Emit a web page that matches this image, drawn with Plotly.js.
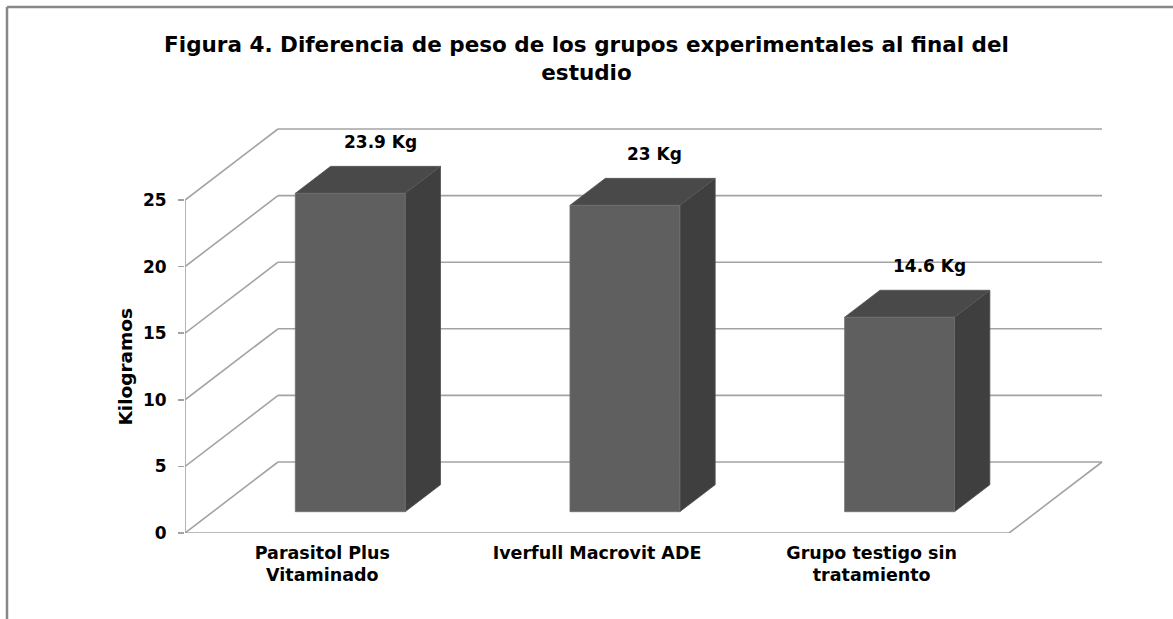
<!DOCTYPE html>
<html>
<head>
<meta charset="utf-8">
<script src="https://cdn.plot.ly/plotly-3.0.1.min.js"></script>
<style>html,body{margin:0;padding:0;background:#fff;}#chart{width:1173px;height:619px;}</style>
</head>
<body>
<div id="chart"></div>
<script>
// ---- data ----
const categories = ['Parasitol Plus<br>Vitaminado', 'Iverfull Macrovit ADE', 'Grupo testigo sin<br>tratamiento'];
const values = [23.9, 23, 14.6];
const valueLabels = ['23.9 Kg', '23 Kg', '14.6 Kg'];
const yTicks = [0, 5, 10, 15, 20, 25];
const yTickText = ['0', '5', '10', '15', '20', '25'];
const titleText = 'Figura 4. Diferencia de peso de los grupos experimentales al final del<br>estudio';
const yTitle = 'Kilogramos';

// ---- geometry (oblique 3D projection in axis units) ----
const W = 1173, H = 619;
const M = {l: 185, r: 63, t: 100, b: 86};
const PX_PER_X = 274.67, PX_PER_Y = 13.32;
const plotW = W - M.l - M.r, plotH = H - M.t - M.b;
const xRange = [-0.5, -0.5 + plotW / PX_PER_X];
const yRange = [0, plotH / PX_PER_Y];
const DEPTH_X = 93 / PX_PER_X, DEPTH_Y = 71 / PX_PER_Y;
const Z_FRONT = 0.3, Z_BACK = 0.68, HALF_W = 0.2;
const xs = categories.map((c, i) => i);
const xMin = -0.5, xMax = categories.length - 0.5;
const yTop = yTicks[yTicks.length - 1];

function proj(x, v, z) { return [x + z * DEPTH_X, v + z * DEPTH_Y]; }

const FONT = 'DejaVu Sans, Liberation Sans, Arial, sans-serif';
const GRID = '#a3a3a3';

// walls / gridlines
const gx = [], gy = [];
function seg(a, b) { gx.push(a[0], b[0], null); gy.push(a[1], b[1], null); }
yTicks.forEach(t => {
  seg(proj(xMin, t, 1), proj(xMax, t, 1));   // back wall
  seg(proj(xMin, t, 0), proj(xMin, t, 1));   // side wall
});
seg(proj(xMin, 0, 0), proj(xMax, 0, 0));     // floor front edge
seg(proj(xMax, 0, 0), proj(xMax, 0, 1));     // floor right edge
seg(proj(xMin, 0, 0), proj(xMin, yTop, 0));  // value axis line

const traces = [{
  type: 'scatter', mode: 'lines', x: gx, y: gy,
  line: {color: GRID, width: 1.6}, hoverinfo: 'skip', showlegend: false
}];

function poly(pts, color, edge) {
  const p = pts.concat([pts[0]]);
  traces.push({
    type: 'scatter', mode: 'lines', fill: 'toself', fillcolor: color,
    x: p.map(q => q[0]), y: p.map(q => q[1]),
    line: {color: edge, width: 0.8}, hoverinfo: 'skip', showlegend: false
  });
}

xs.forEach((xc, i) => {
  const v = values[i];
  const L = xc - HALF_W, R = xc + HALF_W;
  poly([proj(R, 0, Z_FRONT), proj(R, 0, Z_BACK), proj(R, v, Z_BACK), proj(R, v, Z_FRONT)], '#3f3f3f', '#505050');
  poly([proj(L, v, Z_FRONT), proj(R, v, Z_FRONT), proj(R, v, Z_BACK), proj(L, v, Z_BACK)], '#494949', '#555555');
  poly([proj(L, 0, Z_FRONT), proj(R, 0, Z_FRONT), proj(R, v, Z_FRONT), proj(L, v, Z_FRONT)], '#5f5f5f', '#6e6e6e');
});

const annotations = xs.map((xc, i) => {
  const p = proj(xc, values[i], 0.62);
  return {
    x: p[0], y: p[1], xref: 'x', yref: 'y', text: valueLabels[i], showarrow: false,
    xanchor: 'center', yanchor: 'middle', yshift: 29,
    font: {family: FONT, size: 17, color: '#000', weight: 'bold'}
  };
});
annotations.push({
  xref: 'paper', yref: 'y', x: (125 - M.l) / plotW, y: yTop / 2, text: yTitle,
  textangle: -90, showarrow: false, xanchor: 'center', yanchor: 'middle',
  font: {family: FONT, size: 18.5, color: '#000', weight: 'bold'}
});

// chart-area border (left and top)
const px2paperX = px => (px - M.l) / plotW;
const px2paperY = py => (H - M.b - py) / plotH;
const shapes = [
  {type: 'line', xref: 'paper', yref: 'paper', x0: px2paperX(7), x1: px2paperX(7), y0: px2paperY(7), y1: px2paperY(H + 5), line: {color: '#878787', width: 2.5}},
  {type: 'line', xref: 'paper', yref: 'paper', x0: px2paperX(7), x1: px2paperX(W + 5), y0: px2paperY(7), y1: px2paperY(7), line: {color: '#878787', width: 2.5}}
];

const layout = {
  width: W, height: H,
  margin: M,
  paper_bgcolor: '#ffffff', plot_bgcolor: 'rgba(0,0,0,0)',
  showlegend: false,
  title: {
    text: '<b>' + titleText + '</b>',
    font: {family: FONT, size: 21.5, color: '#000'},
    x: 0.5, xref: 'container', xanchor: 'center',
    y: 1 - 52 / H, yref: 'container', yanchor: 'top'
  },
  xaxis: {
    range: xRange, showgrid: false, zeroline: false, showline: false,
    tickmode: 'array', tickvals: xs, ticktext: categories, ticks: '',
    ticklabelstandoff: 7,
    tickfont: {family: FONT, size: 17.5, color: '#000', weight: 'bold'},
    fixedrange: true
  },
  yaxis: {
    range: yRange, showgrid: false, zeroline: false, showline: false,
    tickmode: 'array', tickvals: yTicks, ticktext: yTickText,
    ticks: 'outside', ticklen: 6, tickwidth: 1.6, tickcolor: GRID,
    ticklabelstandoff: 8,
    tickfont: {family: FONT, size: 17, color: '#000', weight: 'bold'},
    fixedrange: true
  },
  annotations: annotations,
  shapes: shapes
};

Plotly.newPlot('chart', traces, layout, {displayModeBar: false, staticPlot: true});
</script>
</body>
</html>
